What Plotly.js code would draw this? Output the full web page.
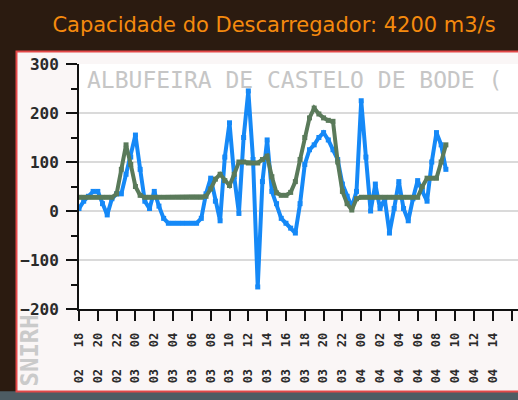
<!DOCTYPE html>
<html>
<head>
<meta charset="utf-8">
<script src="https://cdn.plot.ly/plotly-3.0.1.min.js"></script>
<style>
  html, body { margin: 0; padding: 0; background: #2b1b10; overflow: hidden; }
  #chart { width: 518px; height: 400px; }
</style>
</head>
<body>
<div id="chart"></div>
<script>
// ---- data (half-hourly readings starting 02 18:00) ----
const startTime = Date.UTC(2019, 0, 2, 18, 0);
const stepMinutes = 30;

const blueValues = [
  5, 20, 30, 40, 40, 15, -8, 25, 35, 35,
  75, 110, 155, 85, 20, 5, 40, 10, -15, -25,
  -25, -25, -25, -25, -25, -25, -15, 35, 67, 20,
  -20, 110, 180, 70, -5, 150, 245, 105, -155, 60,
  145, 40, 15, -15, -25, -35, -45, 15, 95, 125,
  135, 150, 160, 145, 125, 105, 55, 30, 8, 40,
  225, 110, 0, 55, 5, 25, -45, 5, 60, 5,
  -20, 25, 62, 40, 20, 100, 160, 135, 85
];

const greenValues = [
  28, 28, 28, 28, 28, 28, 28, 28, 35, 85,
  135, 95, 50, 32, 28, 28, 28, 28, 28, 28,
  28, 28, 28, 28, 28, 28, 28, 30, 45, 65,
  75, 62, 52, 75, 100, 100, 98, 98, 98, 105,
  112, 70, 37, 32, 32, 38, 60, 105, 150, 190,
  210, 198, 190, 185, 183, 100, 40, 15, 2, 25,
  28, 28, 28, 28, 28, 28, 28, 28, 28, 28,
  28, 28, 28, 50, 67, 67, 67, 100, 135
];

const tickDays  = ['02','02','02','03','03','03','03','03','03','03','03','03','03','03','03','04','04','04','04','04','04','04','04','04'];
const tickHours = ['18','20','22','00','02','04','06','08','10','12','14','16','18','20','22','00','02','04','06','08','10','12','14','16'];
const tickTimes = [
  '2019-01-02 18:00','2019-01-02 20:00','2019-01-02 22:00',
  '2019-01-03 00:00','2019-01-03 02:00','2019-01-03 04:00','2019-01-03 06:00',
  '2019-01-03 08:00','2019-01-03 10:00','2019-01-03 12:00','2019-01-03 14:00',
  '2019-01-03 16:00','2019-01-03 18:00','2019-01-03 20:00','2019-01-03 22:00',
  '2019-01-04 00:00','2019-01-04 02:00','2019-01-04 04:00','2019-01-04 06:00',
  '2019-01-04 08:00','2019-01-04 10:00','2019-01-04 12:00','2019-01-04 14:00',
  '2019-01-04 16:00'
];

const titleText = 'Capacidade do Descarregador: 4200 m3/s';
const stationText = 'ALBUFEIRA DE CASTELO DE BODE (';
const sourceText = 'SNIRH';

// ---- build ----
function timeAt(i) {
  return new Date(startTime + i * stepMinutes * 60000).toISOString().slice(0, 16).replace('T', ' ');
}
const times = blueValues.map((_, i) => timeAt(i));
const gap = '\u00a0\u00a0\u00a0';
const tickText = tickDays.map((d, i) => d + gap + tickHours[i]);

const traces = [
  {
    x: times, y: blueValues, type: 'scatter', mode: 'lines+markers',
    line: { color: '#1589f7', width: 4 },
    marker: { color: '#1589f7', size: 5, symbol: 'square' },
    hoverinfo: 'skip'
  },
  {
    x: times, y: greenValues, type: 'scatter', mode: 'lines+markers',
    line: { color: '#5a7a5a', width: 4 },
    marker: { color: '#5a7a5a', size: 5, symbol: 'square' },
    hoverinfo: 'skip'
  }
];

const layout = {
  width: 518, height: 400,
  margin: { l: 79, r: 0, t: 64, b: 91, pad: 0 },
  paper_bgcolor: '#2b1b10',
  plot_bgcolor: '#ffffff',
  showlegend: false,
  title: {
    text: titleText,
    font: { family: 'DejaVu Sans', size: 21, color: '#f58a0e' },
    x: 0.529, xanchor: 'center', xref: 'container',
    y: 0.9375, yanchor: 'middle', yref: 'container'
  },
  xaxis: {
    type: 'date',
    range: ['2019-01-02 18:00', '2019-01-04 16:40'],
    tickvals: tickTimes, ticktext: tickText,
    tickangle: -90,
    ticks: 'outside', ticklen: 10, tickwidth: 2, tickcolor: '#111',
    showline: true, linecolor: '#111', linewidth: 2,
    showgrid: false, zeroline: false,
    ticklabelstandoff: 7,
    tickfont: { family: 'DejaVu Sans Mono', size: 12, weight: 'bold', color: '#2a2a2a' }
  },
  yaxis: {
    range: [-200, 300],
    tickvals: [-200, -100, 0, 100, 200, 300],
    ticks: 'outside', ticklen: 11, tickwidth: 2, tickcolor: '#111',
    minor: { dtick: 50, ticks: 'outside', ticklen: 6, tickwidth: 2, tickcolor: '#111', showgrid: false },
    showline: true, linecolor: '#111', linewidth: 2,
    showgrid: true, gridcolor: '#dadada', gridwidth: 2,
    zeroline: false,
    ticklabelstandoff: 4,
    tickfont: { family: 'DejaVu Sans Mono', size: 16, weight: 'bold', color: '#2a2a2a' }
  },
  shapes: [
    { type: 'rect', xref: 'paper', yref: 'paper', layer: 'below',
      x0: -0.25, x1: 1.2, y0: -0.336, y1: -0.45,
      fillcolor: '#4d5c63', line: { width: 0 } },
    { type: 'rect', xref: 'paper', yref: 'paper', layer: 'below',
      x0: -0.1424, x1: 1.1, y0: -0.3367, y1: 1.051,
      fillcolor: '#faf6f6', line: { color: '#e34848', width: 2 } },
    { type: 'rect', xref: 'paper', yref: 'paper', layer: 'below',
      x0: 0, x1: 1.1, y0: 0, y1: 1,
      fillcolor: '#ffffff', line: { width: 0 } }
  ],
  annotations: [
    { text: stationText, xref: 'paper', yref: 'paper',
      x: 0.0137, y: 0.935, xanchor: 'left', yanchor: 'middle', showarrow: false,
      font: { family: 'DejaVu Sans Mono', size: 23, color: '#c6c6c6' } },
    { text: sourceText, xref: 'paper', yref: 'paper', textangle: -90,
      x: -0.112, y: -0.17, xanchor: 'center', yanchor: 'middle', showarrow: false,
      font: { family: 'DejaVu Sans Mono', size: 24, weight: 'bold', color: '#cacaca' } }
  ]
};

Plotly.newPlot('chart', traces, layout, { displayModeBar: false, staticPlot: true });
</script>
</body>
</html>
